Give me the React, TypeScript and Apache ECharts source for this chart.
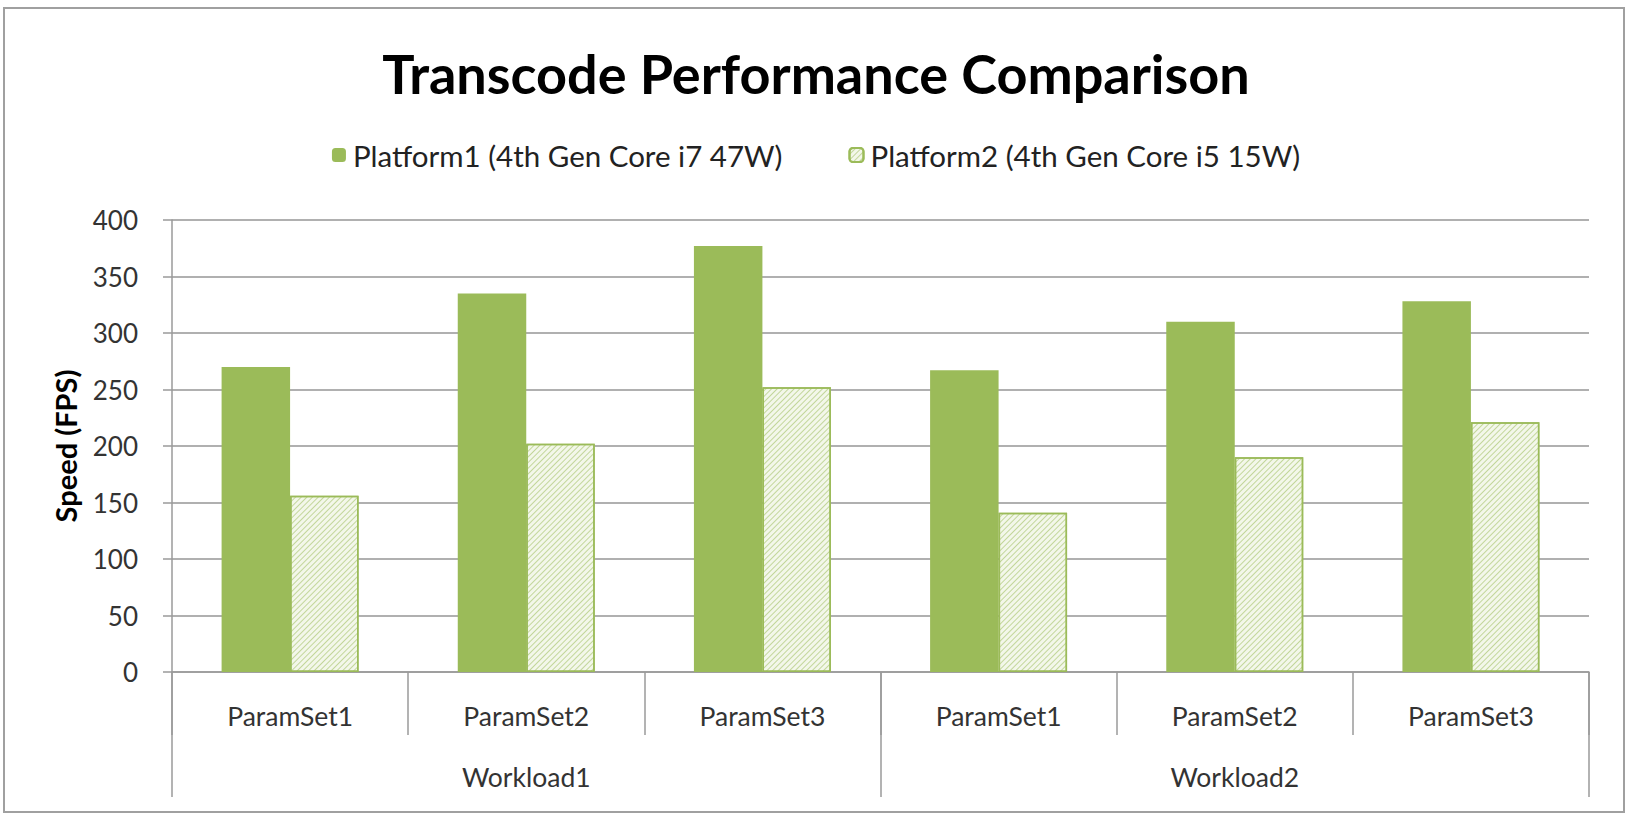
import React, { useEffect, useRef } from "react";
import * as echarts from "echarts";

const categories = ["ParamSet1", "ParamSet2", "ParamSet3", "ParamSet1", "ParamSet2", "ParamSet3"];
const groups = ["Workload1", "Workload2"];
const platform1 = [270, 335, 377, 267, 310, 328];
const platform2 = [156, 202, 252, 141, 190, 221];
const seriesNames = ["Platform1 (4th Gen Core i7 47W)", "Platform2 (4th Gen Core i5 15W)"];
const yTicks = { min: 0, max: 400, interval: 50 };

const FONT = "Lato, 'Open Sans', sans-serif";

export default function App() {
  const ref = useRef<HTMLDivElement>(null);
  useEffect(() => {
    if (!ref.current) return;
    const chart = echarts.init(ref.current, null, { renderer: "svg" });
    const green = "#9bbb59";
    chart.setOption({
      animation: false,
      backgroundColor: "#ffffff",
      textStyle: { fontFamily: FONT },
      title: {
        text: "Transcode Performance Comparison",
        left: "center",
        top: 41,
        textStyle: { fontFamily: FONT, fontWeight: "bold", fontSize: 54, color: "#000000" },
      },
      legend: {
        top: 135,
        left: "center",
        itemWidth: 14,
        itemHeight: 14,
        itemGap: 66,
        textStyle: { fontFamily: FONT, fontSize: 29.5, color: "#222222", padding: [0, 0, 0, 2] },
        data: seriesNames,
      },
      grid: { left: 172, right: 43, top: 220, bottom: 144, containLabel: false },
      xAxis: [
        {
          type: "category",
          data: categories,
          position: "bottom",
          axisLine: { show: true, lineStyle: { color: "#9a9a9a", width: 1.5 } },
          axisTick: { show: true, length: 63, interval: 0, lineStyle: { color: "#9a9a9a", width: 1.5 } },
          axisLabel: { interval: 0, margin: 30, fontSize: 26.5, color: "#333333", fontFamily: FONT },
          splitLine: { show: false },
        },
        {
          type: "category",
          data: groups,
          position: "bottom",
          offset: 0,
          axisLine: { show: false },
          axisTick: { show: true, length: 125, interval: 0, lineStyle: { color: "#9a9a9a", width: 1.5 } },
          axisLabel: { interval: 0, margin: 91, fontSize: 26.5, color: "#333333", fontFamily: FONT },
          splitLine: { show: false },
        },
      ],
      yAxis: {
        type: "value",
        min: yTicks.min,
        max: yTicks.max,
        interval: yTicks.interval,
        name: "Speed (FPS)",
        nameLocation: "middle",
        nameGap: 92,
        nameTextStyle: { fontFamily: FONT, fontWeight: "bold", fontSize: 29, color: "#000000" },
        axisLine: { show: true, lineStyle: { color: "#9a9a9a", width: 1.5 } },
        axisTick: { show: true, length: 9, lineStyle: { color: "#9a9a9a", width: 1.5 } },
        axisLabel: { margin: 34, fontSize: 26, color: "#333333", fontFamily: FONT },
        splitLine: { show: true, lineStyle: { color: "#b0b0b0", width: 2 } },
      },
      series: [
        {
          name: seriesNames[0],
          type: "bar",
          xAxisIndex: 0,
          data: platform1,
          barGap: "0%",
          barCategoryGap: "42%",
          itemStyle: { color: green },
        },
        {
          name: seriesNames[1],
          type: "bar",
          xAxisIndex: 0,
          data: platform2,
          barGap: "0%",
          barCategoryGap: "42%",
          itemStyle: {
            color: "#f3f7ea",
            borderColor: green,
            borderWidth: 1.5,
            decal: {
              symbol: "rect",
              symbolSize: 1,
              color: "rgba(155,187,89,0.55)",
              dashArrayX: [1, 0],
              dashArrayY: [1, 3],
              rotation: -Math.PI / 4,
            },
          },
        },
      ],
      graphic: [
        {
          type: "rect",
          shape: { x: 4, y: 8, width: 1620, height: 804 },
          style: { fill: "none", stroke: "#a0a0a0", lineWidth: 2 },
          silent: true,
          z: 100,
        },
      ],
    });
    return () => chart.dispose();
  }, []);
  return <div ref={ref} style={{ position: "absolute", left: 0, top: 0, width: 1632, height: 816 }} />;
}
